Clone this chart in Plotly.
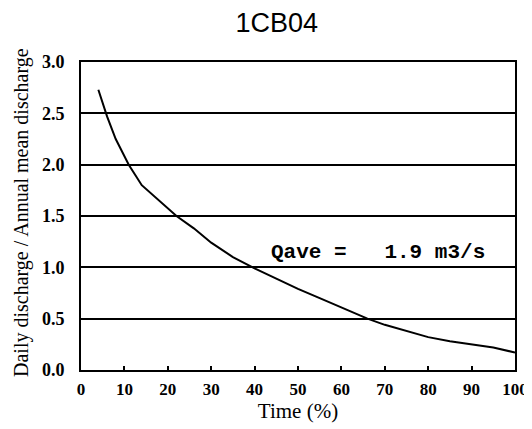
import plotly.graph_objects as go

time_pct = [4, 6, 8, 11, 14, 18, 22, 26, 30, 35, 40, 45, 50, 55, 60, 66, 70, 76, 80, 85, 90, 95, 100]
ratio = [2.73, 2.47, 2.25, 2.0, 1.80, 1.65, 1.50, 1.38, 1.24, 1.10, 0.99, 0.89, 0.79, 0.70, 0.61,
         0.50, 0.44, 0.37, 0.32, 0.28, 0.25, 0.22, 0.17]
x_ticks = [0, 10, 20, 30, 40, 50, 60, 70, 80, 90, 100]
y_ticks = [0.0, 0.5, 1.0, 1.5, 2.0, 2.5, 3.0]
y_tick_labels = ["0.0", "0.5", "1.0", "1.5", "2.0", "2.5", "3.0"]
title_text = "1CB04"
annot_text = "Qave =   1.9 m3/s"
x_title = "Time (%)"
y_title = "Daily discharge / Annual mean discharge"

serif = "Liberation Serif, Times New Roman, serif"

fig = go.Figure()
fig.add_trace(go.Scatter(x=time_pct, y=ratio, mode="lines",
                         line=dict(color="black", width=2), showlegend=False))

fig.add_annotation(x=43.3, y=1.14, xref="x", yref="y", text="<b>" + annot_text + "</b>",
                   showarrow=False, xanchor="left", yanchor="middle",
                   font=dict(family="Liberation Mono, Courier New, monospace", size=21, color="black"))

fig.add_annotation(x=-0.136, y=0.513, xref="paper", yref="paper", text=y_title,
                   textangle=-90, showarrow=False, xanchor="center", yanchor="middle",
                   font=dict(family=serif, size=20, color="black"))

# page body has an 8px margin, so the figure is sized/offset to compensate
fig.update_layout(
    width=524, height=421,
    margin=dict(l=73, r=17, t=54, b=59),
    paper_bgcolor="white", plot_bgcolor="white",
    title=dict(text=title_text, x=0.513, xanchor="center", y=0.988, yanchor="top",
               yref="container",
               font=dict(family="Liberation Sans, Arial, sans-serif", size=27, color="black")),
    xaxis=dict(range=[0, 100], tickvals=x_ticks, ticks="inside", ticklen=4, tickwidth=1.5,
               tickcolor="black", showgrid=False, zeroline=False, automargin=False,
               showline=True, linecolor="black", linewidth=2, mirror=True,
               ticklabelstandoff=3,
               tickfont=dict(family=serif, size=17, color="black", weight="bold"),
               title=dict(text=x_title, standoff=3,
                          font=dict(family=serif, size=21, color="black"))),
    yaxis=dict(range=[0, 3.0], tickvals=y_ticks, ticktext=y_tick_labels, ticks="",
               showgrid=True, gridcolor="black", gridwidth=1.5, zeroline=False, automargin=False,
               showline=True, linecolor="black", linewidth=2, mirror=True,
               ticklabelstandoff=11,
               tickfont=dict(family=serif, size=18, color="black", weight="bold")),
)

fig.write_html("out.html")
